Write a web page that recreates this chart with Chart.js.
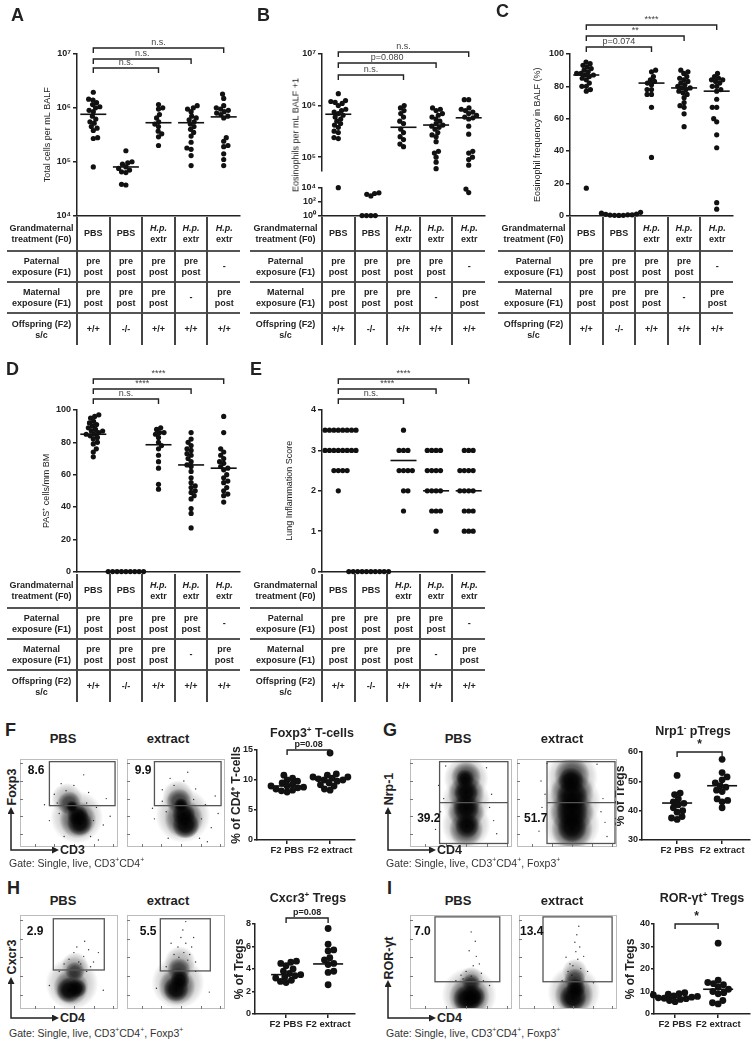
<!DOCTYPE html>
<html>
<head>
<meta charset="utf-8">
<script src="https://cdn.jsdelivr.net/npm/chart.js@4.4.1/dist/chart.umd.min.js"></script>
<style>
  body { margin: 0; background: #fff; }
  #fig { position: relative; width: 754px; height: 1050px; overflow: hidden; font-family: "Liberation Sans", Arial, sans-serif; color: #222; }
  #fig canvas { position: absolute; }
  .t { position: absolute; white-space: nowrap; line-height: 1; }
  .t sup { font-size: 65%; vertical-align: super; line-height: 0; }
  .letter { font-weight: bold; font-size: 18px; }
  table.grid { position: absolute; border-collapse: collapse; table-layout: fixed; font-weight: bold; font-size: 9px; line-height: 11px; text-align: center; color: #222; }
  table.grid td { padding: 0; border-left: 2px solid #444; vertical-align: middle; }
  table.grid td.h { border-left: none; }
  table.grid tr + tr td { border-top: 2px solid #555; }
</style>
</head>
<body>
<div id="fig"></div>
<script>
// ---- A-E: groups are PBS, PBS (-/-), H.p. extr x3 ----
const totalCells = [
  [1.95e6, 1.45e6, 1.4e6, 1.25e6, 1.15e6, 1.05e6, 1.0e6, 9e5, 8.5e5, 7e5, 6.2e5, 5.5e5, 5.2e5, 4.5e5, 4.2e5, 3.8e5, 2.8e5, 2.7e5, 8e4],
  [1.6e5, 1.0e5, 9.5e4, 9e4, 8e4, 7.5e4, 7e4, 6.5e4, 6.3e4, 3.8e4, 3.7e4],
  [1.15e6, 1.0e6, 9.5e5, 7.5e5, 6.5e5, 5.5e5, 5e5, 4.5e5, 3.7e5, 3.3e5, 2.9e5, 2.0e5],
  [1.1e6, 1.0e6, 9.5e5, 8.5e5, 7e5, 6.5e5, 6e5, 5.5e5, 5e5, 4.5e5, 4e5, 3.5e5, 3e5, 2.3e5, 1.8e5, 1.7e5, 1.3e5, 8.5e4],
  [1.8e6, 1.5e6, 1.1e6, 1.0e6, 9.5e5, 9e5, 8.5e5, 8e5, 7.5e5, 7e5, 6.5e5, 2.8e5, 2.4e5, 2e5, 1.9e5, 1.4e5, 1.1e5, 8.5e4]
];
const totalCellsLine = [7.6e5, 8e4, 5.3e5, 5.3e5, 6.8e5];

const eosCells = [
  [1.7e6, 1.25e6, 1.2e6, 1.15e6, 1.1e6, 1.0e6, 8.5e5, 8e5, 7.5e5, 7e5, 6.5e5, 6e5, 5.5e5, 5e5, 4.5e5, 4.2e5, 3.8e5, 3.2e5, 3e5, 2.4e5, 2.3e5, 1.1e4],
  [2e3, 1.6e3, 1.2e3, 7e2, 1, 1, 1, 1],
  [1e6, 9e5, 8e5, 7e5, 6e5, 5e5, 4.5e5, 3.5e5, 3e5, 2.5e5, 2.2e5, 1.8e5, 1.6e5],
  [9e5, 8.5e5, 8e5, 7e5, 6.5e5, 6e5, 5.5e5, 5e5, 4.5e5, 4.2e5, 4e5, 3.8e5, 3.5e5, 3e5, 2.7e5, 2.5e5, 2e5, 1.3e5, 1.2e5, 1e5, 8e4, 6e4],
  [1.3e6, 1.3e6, 9e5, 8.5e5, 8e5, 7.5e5, 7e5, 6.5e5, 6e5, 5.8e5, 5.5e5, 4e5, 2.8e5, 1.3e5, 1.2e5, 1e5, 9e4, 7e4, 7e3, 2.2e3]
];
const eosLine = [6.8e5, null, 3.8e5, 4.2e5, 5.8e5];

const eosFreq = [
  [95, 94, 93, 92, 91, 90, 89, 88, 88, 87, 87, 86, 85, 84, 82, 80, 80, 78, 77, 17],
  [2, 1.5, 1, 0.8, 0.5, 0.5, 0.3, 0.2, 0.2, 0.1],
  [90, 89, 86, 84, 83, 82, 81, 78, 78, 75, 75, 67, 36],
  [90, 89, 88, 86, 85, 84, 83, 82, 81, 80, 79, 79, 78, 77, 76, 75, 73, 70, 68, 67, 63, 55],
  [88, 86, 85, 84, 84, 83, 82, 80, 80, 78, 77, 72, 67, 67, 60, 58, 50, 42, 8, 4]
];
const eosFreqLine = [87, 0.5, 82, 79, 77];

const pasCells = [
  [97, 96, 95, 93, 92, 91, 90, 89, 88, 87, 87, 86, 85, 85, 84, 83, 82, 80, 79, 76, 74, 71],
  [0, 0, 0, 0, 0, 0, 0, 0, 0],
  [89, 88, 86, 86, 85, 83, 80, 78, 76, 72, 68, 64, 54, 51],
  [86, 82, 80, 78, 76, 75, 73, 72, 70, 68, 66, 65, 62, 58, 55, 53, 52, 50, 49, 47, 45, 39, 36, 27],
  [96, 86, 76, 74, 72, 70, 68, 67, 65, 64, 63, 60, 58, 56, 55, 52, 50, 48, 47, 43]
];
const pasLine = [85, 0, 78.5, 66, 64];

const lungScore = [
  [3.5, 3.5, 3.5, 3.5, 3.5, 3.5, 3.5, 3.5, 3, 3, 3, 3, 3, 3, 3, 3, 2.5, 2.5, 2.5, 2.5, 2],
  [0, 0, 0, 0, 0, 0, 0, 0, 0, 0],
  [3.5, 3, 3, 3, 2.5, 2.5, 2.5, 2.5, 2, 2, 1.5],
  [3, 3, 3, 3, 2.5, 2.5, 2.5, 2.5, 2, 2, 2, 2, 1.5, 1.5, 1.5, 1],
  [3, 3, 3, 2.5, 2.5, 2.5, 2.5, 2, 2, 2, 2, 1.5, 1.5, 1.5, 1, 1, 1]
];
const lungLine = [3, 0, 2.75, 2, 2];

// table under A-E
const rowHeads = ['Grandmaternal\ntreatment (F0)', 'Paternal\nexposure (F1)', 'Maternal\nexposure (F1)', 'Offspring (F2)\ns/c'];
const f0Row = ['PBS', 'PBS', 'H.p.\nextr', 'H.p.\nextr', 'H.p.\nextr'];
const paternalRow = ['pre\npost', 'pre\npost', 'pre\npost', 'pre\npost', '-'];
const maternalRow = ['pre\npost', 'pre\npost', 'pre\npost', '-', 'pre\npost'];
const offspringRow = ['+/+', '-/-', '+/+', '+/+', '+/+'];

// ---- F-I: F2 PBS vs F2 extract ----
const f2Groups = ['F2 PBS', 'F2 extract'];
const foxp3Pct = [
  [10.8, 10.3, 10, 9.8, 9.5, 9.3, 9, 9, 8.8, 8.7, 8.5, 8.3, 8.2, 8],
  [14.5, 11, 10.8, 10.5, 10.5, 10.3, 10.2, 10, 10, 9.8, 9.5, 9.2, 9, 8.5, 8.3]
];
const foxp3Line = [9, 10];
const nrp1Pct = [
  [52, 46, 45.5, 44, 43, 42.5, 42, 41, 40, 39.5, 38, 37.5, 37],
  [57.5, 53, 51.5, 50.5, 49.5, 48.5, 48, 47, 46.5, 44, 43.5, 43, 41]
];
const nrp1Line = [42.6, 48.5];
const cxcr3Pct = [
  [4.7, 4.6, 4.5, 4.3, 4.0, 3.8, 3.6, 3.5, 3.4, 3.3, 3.2, 3.0, 2.9, 2.8],
  [7.6, 6.2, 5.7, 5.6, 5.0, 4.8, 4.5, 4.4, 3.8, 3.7, 2.6]
];
const cxcr3Line = [3.5, 4.45];
const rorPct = [
  [9.5, 9, 8.8, 8.5, 8, 7.8, 7.5, 7.2, 7, 6.8, 6.5, 6, 5.5],
  [31.5, 15, 14, 13.5, 13, 12, 11, 10, 9.5, 9, 6, 5, 4.5]
];
const rorLine = [7.3, 11];

// flow gate percentages as printed
const flowPct = ['8.6', '9.9', '39.2', '51.7', '2.9', '5.5', '7.0', '13.4'];

// flow clouds: [x %, y %, spread %, density level]
const foxp3PBS = [[58,34,27,1],[48,55,16,1],[59,31,19,2],[50,50,12,2],[61,27,13,3],[59,36,11,3],[53,46,6,3]];
const foxp3Ext = [[57,36,28,1],[52,58,16,1],[58,32,20,2],[53,52,13,2],[60,25,14,3],[58,37,12,3],[55,48,7,3]];
const nrpPBS = [[55,25,24,1],[55,52,24,1],[55,78,22,1],[55,20,17,2],[55,40,18,2],[55,60,18,2],[55,80,15,2],[56,24,12,3],[55,44,13,3],[55,62,12,3],[54,78,9,3]];
const nrpExt = [[55,25,28,1],[55,52,29,1],[55,80,26,1],[55,20,21,2],[55,40,22,2],[55,60,22,2],[55,82,18,2],[55,22,15,3],[55,40,16,3],[55,58,16,3],[54,76,13,3]];
const cxcrPBS = [[53,27,27,1],[56,46,14,1],[52,23,18,2],[56,40,10,2],[50,20,13,3],[58,22,10,3]];
const cxcrExt = [[52,28,27,1],[54,50,16,1],[51,24,19,2],[53,42,12,2],[50,21,13,3],[54,31,10,3]];
const rorPBS = [[58,15,27,1],[60,32,12,1],[58,13,20,2],[60,28,9,2],[56,11,14,3],[62,13,12,3]];
const rorExt = [[56,18,27,1],[57,40,13,1],[56,15,20,2],[57,32,11,2],[55,12,14,3],[58,22,10,3]];

// sparse events: [x %, y %]
const foxp3PBSDots = [[35,60],[42,72],[70,62],[78,45],[30,30],[85,25],[45,12],[72,12],[65,82],[38,50],[88,55],[55,70],[25,48],[80,8],[92,35],[40,38],[75,30],[68,50],[47,64]];
const foxp3ExtDots = [[36,65],[44,78],[70,66],[80,48],[28,32],[86,22],[42,10],[74,10],[62,85],[36,52],[90,58],[58,75],[26,44],[82,6],[93,38],[40,40],[76,32],[68,54],[48,70]];
const nrpPBSDots = [[30,40],[80,60],[28,70],[82,30],[35,92],[75,90],[25,20],[85,15],[33,55],[78,45]];
const nrpExtDots = [[25,45],[86,55],[24,75],[88,28],[30,95],[80,94],[22,18],[90,12],[28,60],[84,40]];
const cxcrPBSDots = [[60,50],[65,56],[55,60],[70,63],[62,48],[50,53],[75,50],[58,66],[66,72],[72,45],[45,48],[80,60],[30,25],[85,20],[68,40],[40,40]];
const cxcrExtDots = [[58,60],[60,70],[52,66],[64,58],[55,76],[62,52],[48,58],[66,66],[57,84],[70,50],[45,70],[60,93],[53,55],[68,76],[30,22],[84,18],[70,40],[40,45]];
const rorPBSDots = [[60,35],[62,46],[55,40],[65,56],[58,62],[70,38],[52,32],[64,72],[60,82],[68,48],[45,30],[78,25],[72,30],[50,36]];
const rorExtDots = [[55,46],[60,53],[58,61],[52,48],[63,43],[57,71],[62,66],[50,40],[66,56],[59,79],[54,36],[61,88],[44,30],[76,28],[70,40],[48,55]];

const flowTicks = [15, 35, 55, 75, 95];

// ------------------------------------------------------------
Chart.defaults.font.family = '"Liberation Sans", Arial, sans-serif';
Chart.defaults.color = '#222';
const FONT = '"Liberation Sans", Arial, sans-serif';
const fig = document.getElementById('fig');

const SUP = {'0': '⁰', '1': '¹', '2': '²', '3': '³', '4': '⁴', '5': '⁵', '6': '⁶', '7': '⁷'};
const pow10 = v => '10' + SUP[String(Math.round(Math.log10(v)))];

function addCanvas(l, t, w, h) {
  const c = document.createElement('canvas');
  c.width = w; c.height = h;
  c.style.left = l + 'px'; c.style.top = t + 'px';
  c.style.width = w + 'px'; c.style.height = h + 'px';
  fig.appendChild(c);
  return c;
}

function put(html, x, y, css, center) {
  const d = document.createElement('div');
  d.className = 't';
  d.innerHTML = html;
  d.style.cssText += `left:${x}px;top:${y}px;${css || ''}`;
  d.style.transform = center ? 'translate(-50%,-50%)' : 'translate(0,-50%)';
  fig.appendChild(d);
}
function putV(html, x, y, css) {
  const d = document.createElement('div');
  d.className = 't';
  d.innerHTML = html;
  d.style.cssText += `left:${x}px;top:${y}px;${css || ''}`;
  d.style.transform = 'translate(-50%,-50%) rotate(-90deg)';
  fig.appendChild(d);
}

// spread points of one column sideways so they do not overlap
const swarm = {
  id: 'swarm',
  afterDatasetsUpdate(chart) {
    chart.data.datasets.forEach((ds, i) => {
      if (!ds.swarm) return;
      const pts = chart.getDatasetMeta(i).data;
      const d = ds.pointRadius * 2 * 0.85;
      const order = pts.map((p, k) => k).sort((a, b) => pts[b].y - pts[a].y);
      const placed = [];
      order.forEach((k, n) => {
        const p = pts[k];
        const near = placed.filter(q => Math.abs(q.y - p.y) < d);
        const cands = [0];
        near.forEach(q => {
          const w = Math.sqrt(d * d - (q.y - p.y) ** 2);
          cands.push(q.dx + w, q.dx - w);
        });
        const side = n % 2 ? 1 : -1;
        cands.sort((a, b) => (Math.abs(a) - Math.abs(b)) || (a - b) * side);
        const dx = cands.find(c => near.every(q => Math.hypot(q.dx - c, q.y - p.y) >= d - 0.01));
        p.x += dx;
        placed.push({dx, y: p.y});
      });
    });
  }
};

function makeBrackets(items, font, color) {
  return {
    id: 'brackets',
    afterDraw(chart) {
      const {ctx, chartArea, scales} = chart;
      ctx.save();
      ctx.strokeStyle = '#222'; ctx.lineWidth = 1.4;
      ctx.fillStyle = color; ctx.font = font;
      ctx.textAlign = 'center'; ctx.textBaseline = 'bottom';
      items.forEach(([a, b, label, dy]) => {
        const x0 = scales.x.getPixelForValue(a), x1 = scales.x.getPixelForValue(b);
        const y = chartArea.top + dy;
        ctx.beginPath();
        ctx.moveTo(x0, y + 5); ctx.lineTo(x0, y); ctx.lineTo(x1, y); ctx.lineTo(x1, y + 5);
        ctx.stroke();
        ctx.fillText(label, (x0 + x1) / 2, y - 1);
      });
      ctx.restore();
    }
  };
}

function dotPlot(o) {
  const [cl, ct, cw, ch] = o.box;
  const [al, at, ar, ab] = o.area;
  const xH = o.xLabels ? ct + ch - ab : 0;
  const tf = o.titleFont || {size: 9};
  const datasets = o.groups.map((vals, g) => ({
    data: vals.map(v => ({x: g, y: v})),
    swarm: true,
    pointRadius: o.r,
    pointBackgroundColor: '#111',
    pointBorderWidth: 0,
    clip: false
  }));
  if (o.lines) datasets.push({
    data: o.lines.map((v, g) => ({x: g, y: v})).filter(p => p.y != null),
    pointStyle: 'line',
    pointRadius: o.lineHalf,
    pointBorderColor: '#111',
    pointBorderWidth: 1.6,
    clip: false
  });
  new Chart(addCanvas(cl, ct, cw, ch), {
    type: 'scatter',
    data: {datasets},
    plugins: [swarm, makeBrackets(o.brackets || [], o.bracketFont || '9px ' + FONT, o.bracketColor || '#444')],
    options: {
      responsive: false, animation: false, devicePixelRatio: 1, events: [],
      layout: {autoPadding: false, padding: {left: 0, top: at - ct, right: cl + cw - ar, bottom: o.xLabels ? 0 : ct + ch - ab}},
      plugins: {legend: {display: false}, tooltip: {enabled: false}},
      scales: {
        x: {
          type: 'linear', display: !o.noX, min: o.xRange[0], max: o.xRange[1],
          afterBuildTicks: s => { s.ticks = (o.xLabels || []).map((_, i) => ({value: i})); },
          afterFit: s => { s.height = xH; },
          ticks: {display: !!o.xLabels, autoSkip: false, maxRotation: 0, padding: 1,
            font: {size: 9.5, weight: 'bold'}, color: '#222', callback: (v, i) => o.xLabels[i]},
          grid: {display: !!o.xLabels, drawOnChartArea: false, tickLength: 4, color: '#222', lineWidth: 1.5},
          border: {display: true, color: '#222', width: 1.5}
        },
        y: {
          type: o.yType || 'linear', min: o.yMin, max: o.yMax,
          afterBuildTicks: s => { s.ticks = o.yTicks.map(v => ({value: v})); },
          afterFit: s => { s.width = al - cl; },
          ticks: {font: {size: 9, weight: 'bold'}, color: '#222', padding: o.tickPad != null ? o.tickPad : 2,
            callback: o.yLabel || (v => v)},
          grid: {drawOnChartArea: false, tickLength: o.tickLen || 4, color: '#222', lineWidth: 1.5},
          border: {color: '#222', width: 1.5},
          title: {display: !!o.title, text: o.title, color: '#222', font: tf,
            padding: {top: (o.titleX || 0) - cl - tf.size * 0.6, bottom: 0}}
        }
      }
    }
  });
}

// soft radial fill for a blob of events
function blobFill(alpha) {
  return c => {
    const chart = c.chart, raw = c.raw;
    if (!raw || !chart.chartArea) return 'rgba(0,0,0,0)';
    const x = chart.scales.x.getPixelForValue(raw.x), y = chart.scales.y.getPixelForValue(raw.y);
    const g = chart.ctx.createRadialGradient(x, y, 0, x, y, raw.r);
    g.addColorStop(0, `rgba(0,0,0,${alpha})`);
    g.addColorStop(0.5, `rgba(0,0,0,${alpha * 0.85})`);
    g.addColorStop(0.8, `rgba(0,0,0,${alpha * 0.4})`);
    g.addColorStop(1, 'rgba(0,0,0,0)');
    return g;
  };
}

function flowPlot(box, cloud, dots, gate, split, label, labelAt) {
  const [l, t, w, h] = box;
  const alphas = [0.28, 0.6, 0.95];
  const datasets = alphas.map((a, k) => ({
    data: cloud.filter(p => p[3] === k + 1).map(p => ({x: p[0], y: p[1], r: p[2] * w / 100})),
    backgroundColor: blobFill(a), borderWidth: 0, clip: 0
  }));
  datasets.push({data: dots.map(p => ({x: p[0], y: p[1], r: 0.7})), backgroundColor: '#333', borderWidth: 0, clip: 0});
  const deco = {
    id: 'flowDeco',
    afterDatasetsDraw(chart) {
      const {ctx, chartArea: a, scales: {x, y}} = chart;
      ctx.save();
      ctx.strokeStyle = '#bdbdbd'; ctx.lineWidth = 1;
      ctx.strokeRect(a.left + 0.5, a.top + 0.5, a.width - 1, a.height - 1);
      ctx.strokeStyle = '#777';
      ctx.beginPath();
      flowTicks.forEach(v => {
        const px = Math.round(x.getPixelForValue(v)) + 0.5, py = Math.round(y.getPixelForValue(v)) + 0.5;
        ctx.moveTo(px, a.bottom); ctx.lineTo(px, a.bottom - 3);
        ctx.moveTo(a.left, py); ctx.lineTo(a.left + 3, py);
      });
      ctx.stroke();
      const gx0 = x.getPixelForValue(gate[0]), gy0 = y.getPixelForValue(gate[1]);
      const gx1 = x.getPixelForValue(gate[2]), gy1 = y.getPixelForValue(gate[3]);
      ctx.strokeStyle = '#555'; ctx.lineWidth = 1.3;
      ctx.strokeRect(gx0, gy1, gx1 - gx0, gy0 - gy1);
      if (split != null) {
        const sy = y.getPixelForValue(split);
        ctx.beginPath(); ctx.moveTo(gx0, sy); ctx.lineTo(gx1, sy); ctx.stroke();
      }
      ctx.fillStyle = '#111'; ctx.font = 'bold 12px ' + FONT;
      ctx.textAlign = 'left'; ctx.textBaseline = 'top';
      ctx.fillText(label, x.getPixelForValue(labelAt[0]), y.getPixelForValue(labelAt[1]));
      ctx.restore();
    }
  };
  new Chart(addCanvas(l, t, w, h), {
    type: 'bubble',
    data: {datasets},
    plugins: [deco],
    options: {
      responsive: false, animation: false, devicePixelRatio: 1, events: [],
      layout: {autoPadding: false, padding: 0},
      plugins: {legend: {display: false}, tooltip: {enabled: false}},
      scales: {x: {display: false, min: 0, max: 100}, y: {display: false, min: 0, max: 100}}
    }
  });
}

function grid(left, top, axisX) {
  const fmt = s => s.replace('H.p.', '<i>H.p.</i>').replace(/\n/g, '<br>');
  const rowH = [34, 31, 31, 32];
  const headW = axisX - left;
  const rows = [f0Row, paternalRow, maternalRow, offspringRow];
  let html = `<colgroup><col style="width:${headW}px">` + '<col style="width:32.6px">'.repeat(5) + '</colgroup>';
  rows.forEach((row, r) => {
    html += `<tr style="height:${rowH[r]}px"><td class="h">${fmt(rowHeads[r])}</td>` +
      row.map(c => `<td>${fmt(c)}</td>`).join('') + '</tr>';
  });
  const tbl = document.createElement('table');
  tbl.className = 'grid';
  tbl.innerHTML = html;
  tbl.style.left = left + 'px'; tbl.style.top = top + 'px';
  tbl.style.width = (headW + 163) + 'px';
  fig.appendChild(tbl);
}

// ---- A ----
dotPlot({
  box: [0, 0, 245, 223], area: [77, 54, 240, 217], xRange: [-0.5, 4.5],
  groups: totalCells, lines: totalCellsLine, r: 2.6, lineHalf: 13,
  yType: 'logarithmic', yMin: 1e4, yMax: 1e7, yTicks: [1e4, 1e5, 1e6, 1e7], yLabel: pow10,
  title: 'Total cells per mL BALF', titleX: 48,
  brackets: [[0, 2, 'n.s.', 14], [0, 3, 'n.s.', 5], [0, 4, 'n.s.', -6]]
});

// ---- B (broken log axis) ----
const splitB = 5.5e4;
dotPlot({
  box: [245, 0, 250, 178], area: [322, 54, 485, 175], xRange: [-0.5, 4.5], noX: true,
  groups: eosCells.map(g => g.filter(v => v >= splitB)), lines: eosLine, r: 2.6, lineHalf: 13,
  yType: 'logarithmic', yMin: splitB, yMax: 1e7, yTicks: [1e5, 1e6, 1e7], yLabel: pow10,
  brackets: [[0, 2, 'n.s.', 21], [0, 3, 'p=0.080', 9], [0, 4, 'n.s.', -2]]
});
dotPlot({
  box: [245, 180, 250, 43], area: [322, 188, 485, 217], xRange: [-0.5, 4.5],
  groups: eosCells.map(g => g.filter(v => v < splitB)), r: 2.6,
  yType: 'logarithmic', yMin: 1, yMax: 1e4, yTicks: [1, 1e2, 1e4], yLabel: pow10
});

// ---- C ----
dotPlot({
  box: [495, 0, 259, 223], area: [570, 54, 733, 217], xRange: [-0.5, 4.5],
  groups: eosFreq, lines: eosFreqLine, r: 2.6, lineHalf: 13,
  yMin: 0, yMax: 100, yTicks: [0, 20, 40, 60, 80, 100],
  title: 'Eosinophil frequency in BALF (%)', titleX: 538,
  brackets: [[0, 2, 'p=0.074', -7], [0, 3, '**', -18], [0, 4, '****', -29]]
});

// ---- D ----
dotPlot({
  box: [0, 360, 245, 219], area: [77, 410, 240, 573], xRange: [-0.5, 4.5],
  groups: pasCells, lines: pasLine, r: 2.6, lineHalf: 13,
  yMin: 0, yMax: 100, yTicks: [0, 20, 40, 60, 80, 100],
  title: 'PAS⁺ cells/mm BM', titleX: 47,
  brackets: [[0, 2, 'n.s.', -11], [0, 3, '****', -21], [0, 4, '****', -31]]
});

// ---- E ----
dotPlot({
  box: [245, 360, 250, 219], area: [322, 410, 485, 573], xRange: [-0.5, 4.5],
  groups: lungScore, lines: lungLine, r: 2.6, lineHalf: 13,
  yMin: 0, yMax: 4, yTicks: [0, 1, 2, 3, 4],
  title: 'Lung Inflammation Score', titleX: 290,
  brackets: [[0, 2, 'n.s.', -11], [0, 3, '****', -21], [0, 4, '****', -31]]
});

// ---- F-I dot plots ----
const boldBr = 'bold 9px ' + FONT;
const bigTitle = {size: 12, weight: 'bold'};
dotPlot({
  box: [228, 725, 130, 133], area: [257, 750, 355, 840], xRange: [-0.7, 1.58], xLabels: f2Groups,
  groups: foxp3Pct, lines: foxp3Line, r: 3.4, lineHalf: 15, tickLen: 3, tickPad: 1,
  yMin: 0, yMax: 15, yTicks: [0, 5, 10, 15],
  title: '% of CD4⁺ T-cells', titleX: 237, titleFont: bigTitle,
  brackets: [[0, 1, 'p=0.08', 0]], bracketFont: boldBr, bracketColor: '#222'
});
dotPlot({
  box: [605, 725, 149, 133], area: [642, 752, 750, 840], xRange: [-0.78, 1.62], xLabels: f2Groups,
  groups: nrp1Pct, lines: nrp1Line, r: 3.4, lineHalf: 15, tickLen: 3, tickPad: 1,
  yMin: 30, yMax: 60, yTicks: [30, 40, 50, 60],
  title: '% of Tregs', titleX: 621, titleFont: bigTitle,
  brackets: [[0, 1, '*', 0]], bracketFont: 'bold 12px ' + FONT, bracketColor: '#222'
});
dotPlot({
  box: [228, 895, 130, 137], area: [255, 924, 355, 1014], xRange: [-0.74, 1.64], xLabels: f2Groups,
  groups: cxcr3Pct, lines: cxcr3Line, r: 3.4, lineHalf: 15, tickLen: 3, tickPad: 1,
  yMin: 0, yMax: 8, yTicks: [0, 2, 4, 6, 8],
  title: '% of Tregs', titleX: 240, titleFont: bigTitle,
  brackets: [[0, 1, 'p=0.08', -6]], bracketFont: boldBr, bracketColor: '#222'
});
dotPlot({
  box: [605, 895, 149, 137], area: [654, 924, 750, 1014], xRange: [-0.49, 1.74], xLabels: f2Groups,
  groups: rorPct, lines: rorLine, r: 3.4, lineHalf: 15, tickLen: 3, tickPad: 1,
  yMin: 0, yMax: 40, yTicks: [0, 10, 20, 30, 40],
  title: '% of Tregs', titleX: 631, titleFont: bigTitle,
  brackets: [[0, 1, '*', 0]], bracketFont: 'bold 12px ' + FONT, bracketColor: '#222'
});

// ---- flow plots ----
flowPlot([20, 759, 98, 88], foxp3PBS, foxp3PBSDots, [30, 47, 97, 97], null, flowPct[0], [8, 93]);
flowPlot([127, 759, 98, 88], foxp3Ext, foxp3ExtDots, [28, 47, 96, 97], null, flowPct[1], [8, 93]);
flowPlot([410, 759, 102, 88], nrpPBS, nrpPBSDots, [29, 4, 96, 97], 50.5, flowPct[2], [7, 39]);
flowPlot([517, 759, 100, 88], nrpExt, nrpExtDots, [30, 4, 98, 97], 50.5, flowPct[3], [7, 39]);
flowPlot([20, 915, 98, 94], cxcrPBS, cxcrPBSDots, [34, 41.5, 86, 96], null, flowPct[4], [7, 89]);
flowPlot([127, 915, 98, 94], cxcrExt, cxcrExtDots, [34, 40.5, 85, 96], null, flowPct[5], [13, 89]);
flowPlot([410, 915, 102, 94], rorPBS, rorPBSDots, [24.5, 29, 88, 98], null, flowPct[6], [4, 89]);
flowPlot([519, 915, 98, 94], rorExt, rorExtDots, [24.5, 29, 95, 98], null, flowPct[7], [1, 89]);

// ---- tables ----
grid(7, 217, 77);
grid(250, 217, 322);
grid(498, 217, 570);
grid(7, 574, 77);
grid(250, 574, 322);

// ---- text ----
[['A', 11, 6], ['B', 257, 6], ['C', 496, 2], ['D', 6, 360], ['E', 250, 360],
 ['F', 5, 721], ['G', 383, 721], ['H', 7, 879], ['I', 387, 879]].forEach(([s, x, y]) => {
  const d = document.createElement('div');
  d.className = 't letter'; d.textContent = s;
  d.style.left = x + 'px'; d.style.top = y + 'px';
  fig.appendChild(d);
});
putV('Eosinophils per mL BALF +1', 296, 135, 'font-size:9px;');

const bold13 = 'font-size:13px;font-weight:bold;';
[['PBS', 63, 738], ['extract', 168, 738], ['PBS', 458, 738], ['extract', 562, 738],
 ['PBS', 63, 900], ['extract', 168, 900], ['PBS', 458, 900], ['extract', 562, 900]]
  .forEach(([s, x, y]) => put(s, x, y, bold13, true));
const bold12 = 'font-size:12.5px;font-weight:bold;';
put('Foxp3<sup>+</sup> T-cells', 312, 733, bold12, true);
put('Nrp1<sup>-</sup> pTregs', 693, 731, bold12, true);
put('Cxcr3<sup>+</sup> Tregs', 308, 898, bold12, true);
put('ROR-γt<sup>+</sup> Tregs', 702, 898, bold12, true);

putV('Foxp3', 12, 787, bold12);
putV('Nrp-1', 389, 789, bold12);
putV('Cxcr3', 12, 957, bold12);
putV('ROR-γt', 389, 958, bold12);
put('CD3', 60, 850, bold12);
put('CD4', 437, 850, bold12);
put('CD4', 60, 1018, bold12);
put('CD4', 437, 1018, bold12);
const gateCss = 'font-size:10.5px;color:#333;';
put('Gate: Single, live, CD3<sup>+</sup>CD4<sup>+</sup>', 9, 863, gateCss);
put('Gate: Single, live, CD3<sup>+</sup>CD4<sup>+</sup>, Foxp3<sup>+</sup>', 386, 863, gateCss);
put('Gate: Single, live, CD3<sup>+</sup>CD4<sup>+</sup>, Foxp3<sup>+</sup>', 9, 1033, gateCss);
put('Gate: Single, live, CD3<sup>+</sup>CD4<sup>+</sup>, Foxp3<sup>+</sup>', 386, 1033, gateCss);

// axis arrows of the flow plots
const arrows = [[11, 850, 41], [388, 850, 41], [11, 1018, 39], [388, 1018, 36]];
let svg = '<svg width="754" height="1050" style="position:absolute;left:0;top:0" xmlns="http://www.w3.org/2000/svg">' +
  '<defs><marker id="ah" markerWidth="7" markerHeight="7" refX="5" refY="3.5" orient="auto-start-reverse" markerUnits="userSpaceOnUse">' +
  '<path d="M0,0 L7,3.5 L0,7 z" fill="#222"/></marker></defs>';
arrows.forEach(([x, y, up]) => {
  svg += `<path d="M${x},${y - up} L${x},${y} L${x + 46},${y}" fill="none" stroke="#222" stroke-width="1.5" marker-start="url(#ah)" marker-end="url(#ah)"/>`;
});
svg += '</svg>';
fig.insertAdjacentHTML('beforeend', svg);
</script>
</body>
</html>
